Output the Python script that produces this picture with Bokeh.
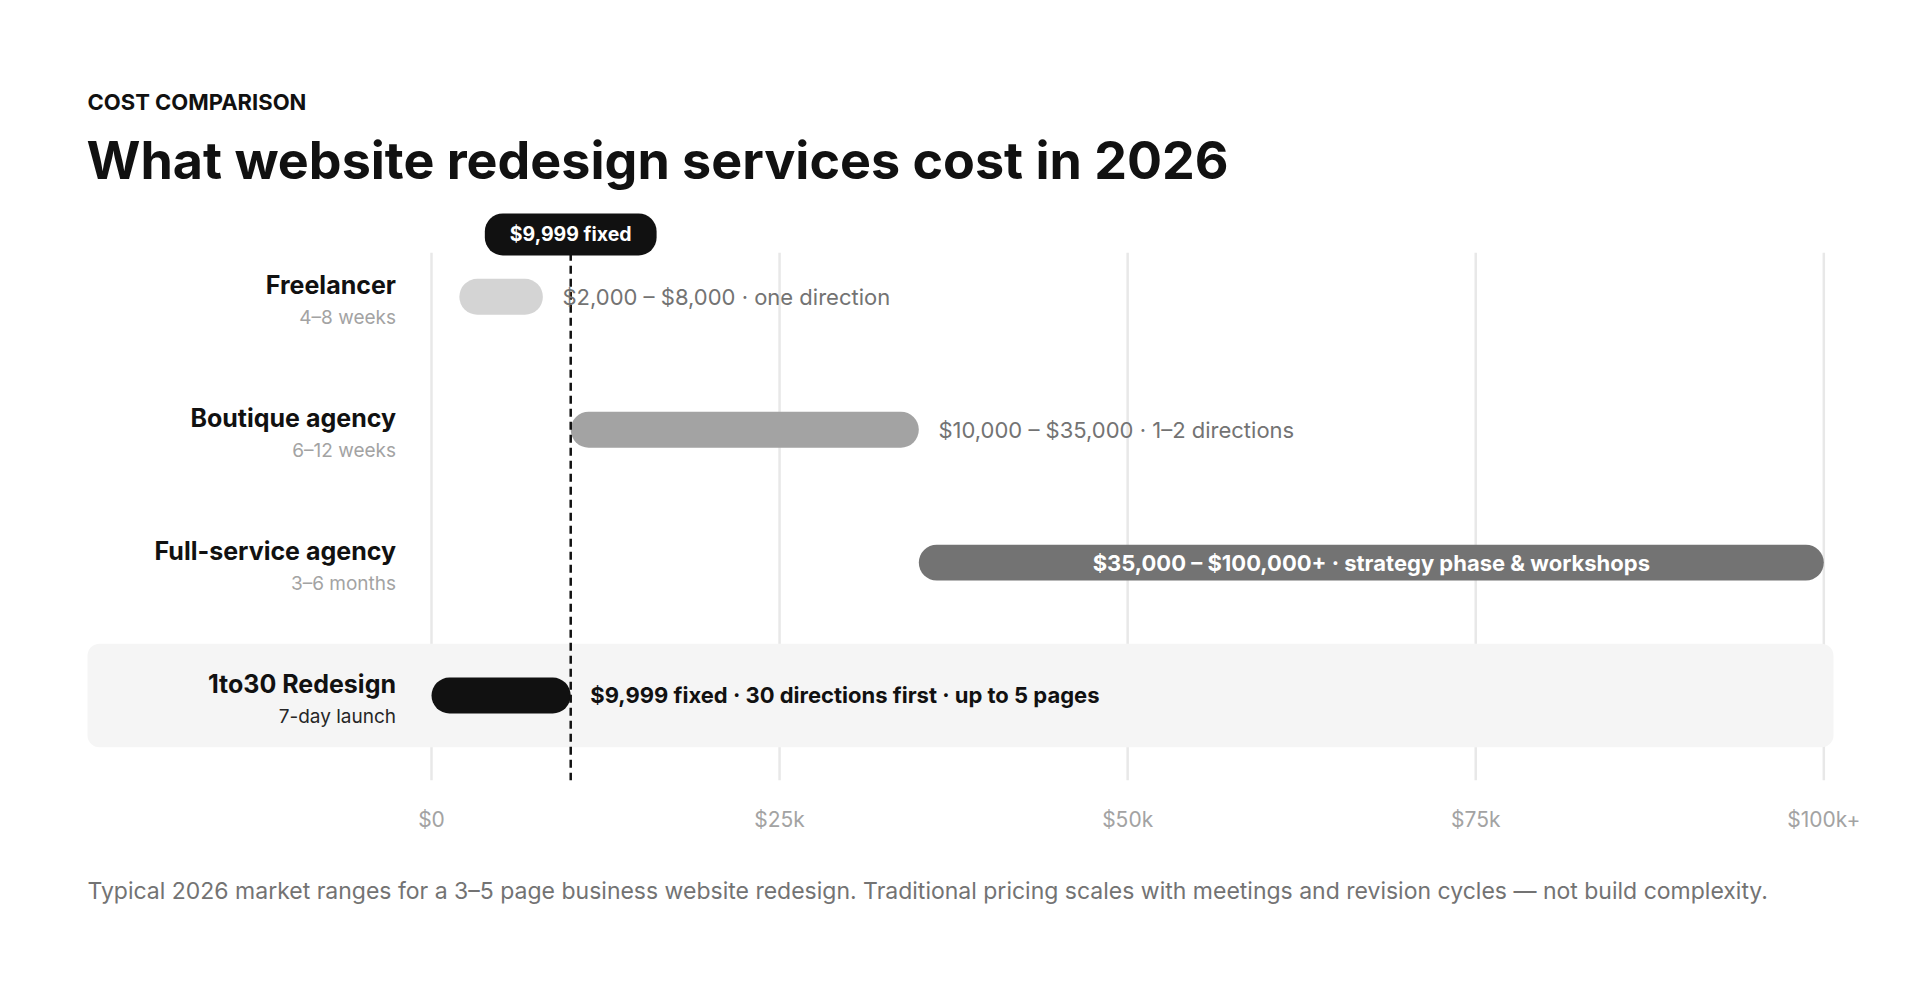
from bokeh.plotting import figure
from bokeh.models import ColumnDataSource, Label, BoxAnnotation, LinearAxis, FixedTicker, Range1d, Title
from bokeh.core.properties import value
from bokeh.embed import file_html
from bokeh.resources import INLINE

# texts
eyebrow = "COST COMPARISON"
title = "What website redesign services cost in 2026"
footnote = ("Typical 2026 market ranges for a 3–5 page business website redesign. "
            "Traditional pricing scales with meetings and revision cycles — not build complexity.")

# data
providers = ["Freelancer", "Boutique agency", "Full-service agency", "1to30 Redesign"]
timelines = ["4–8 weeks", "6–12 weeks", "3–6 months", "7-day launch"]
low = [2000, 10000, 35000, 0]
high = [8000, 35000, 100000, 9999]
notes = ["$2,000 – $8,000 · one direction",
         "$10,000 – $35,000 · 1–2 directions",
         "$35,000 – $100,000+ · strategy phase & workshops",
         "$9,999 fixed · 30 directions first · up to 5 pages"]
fixed_price = 9999
fixed_label = "$9,999 fixed"
tick_values = [0, 25000, 50000, 75000, 100000]
tick_labels = ["$0", "$25k", "$50k", "$75k", "$100k+"]

# styles
bar_colors = ["#d4d4d4", "#a3a3a3", "#737373", "#111111"]
sub_colors = ["#a3a3a3", "#a3a3a3", "#a3a3a3", "#262626"]
FONT = "Inter"

rows = list(range(len(providers)))
W, H = 1904, 968
BOTTOM = 188
y_top, y_bot = -2.2295, 3.6396
grid_top = -0.3318

p = figure(width=W, height=H, output_backend="svg", toolbar_location=None,
           x_range=Range1d(-30956, 105796), y_range=Range1d(y_bot, y_top),
           x_axis_type=None, y_axis_type=None,
           min_border_left=0, min_border_right=0, min_border_top=0, min_border_bottom=BOTTOM,
           outline_line_color=None, background_fill_color="white", border_fill_color="white")

ax = LinearAxis(ticker=FixedTicker(ticks=tick_values),
                major_label_overrides={v: t for v, t in zip(tick_values, tick_labels)},
                axis_line_color=None, major_tick_line_color=None, minor_tick_line_color=None,
                major_tick_out=0, major_tick_in=0, major_label_standoff=26,
                major_label_text_font=FONT, major_label_text_font_size="21px",
                major_label_text_color="#a3a3a3")
p.add_layout(ax, "below")
p.add_layout(Title(text=footnote, align="left", offset=87, standoff=80,
                   text_font=FONT, text_font_size="23px", text_font_style="normal",
                   text_color="#737373"), "below")

# grid lines and the highlighted row
p.segment(x0=tick_values, y0=[grid_top] * len(tick_values), x1=tick_values, y1=[y_bot] * len(tick_values),
          line_color="#e8e8e8", line_width=2.5, level="underlay")
band = BoxAnnotation(left=87, right=1833, left_units="screen", right_units="screen",
                     top=rows[-1] - 0.39, bottom=rows[-1] + 0.39,
                     fill_color="#f5f5f5", fill_alpha=1, line_color=None, border_radius=12,
                     level="underlay")
p.add_layout(band)

# bars
src = ColumnDataSource(dict(y=rows, left=low, right=high, color=bar_colors))
p.hbar(y="y", left="left", right="right", height=0.27, fill_color="color",
       line_color=None, border_radius=18, source=src)

# fixed price marker
p.segment(x0=[fixed_price], y0=[grid_top], x1=[fixed_price], y1=[y_bot],
          line_color="#111111", line_width=2.5, line_dash="8 5")
p.add_layout(Label(x=fixed_price, y=grid_top - 0.1377, text=fixed_label,
                   text_align="center", text_baseline="middle", text_color="white",
                   text_font=FONT, text_font_style="bold", text_font_size="19.5px",
                   background_fill_color="#111111", border_radius=18, padding=(25, 9)))

# row labels
p.text(x=[0] * len(rows), y=rows, text=providers, x_offset=-35.5, y_offset=-11.6,
       text_align="right", text_baseline="middle", text_font=value(FONT),
       text_font_style="bold", text_font_size="25px", text_color="#111111")
p.text(x=[0] * len(rows), y=rows, text=timelines, x_offset=-35.5, y_offset=21,
       text_align="right", text_baseline="middle", text_font=value(FONT),
       text_font_size="19px", text_color=sub_colors)

# range notes
outside = [i for i in rows if high[i] - low[i] < 50000]
inside = [i for i in rows if high[i] - low[i] >= 50000]
p.text(x=[high[i] for i in outside], y=[rows[i] for i in outside], text=[notes[i] for i in outside],
       x_offset=19.6, text_align="left", text_baseline="middle", text_font=value(FONT),
       text_font_size="22px",
       text_font_style=["bold" if i == rows[-1] else "normal" for i in outside],
       text_color=["#111111" if i == rows[-1] else "#737373" for i in outside])
p.text(x=[(low[i] + high[i]) / 2 for i in inside], y=[rows[i] for i in inside],
       text=[notes[i] for i in inside], text_align="center", text_baseline="middle",
       text_font=value(FONT), text_font_size="22px", text_font_style="bold", text_color="white")

# headings (screen units from the bottom of the frame)
frame_h = H - BOTTOM
p.add_layout(Label(x=87, y=frame_h - 101, x_units="screen", y_units="screen", text=eyebrow,
                   text_font=FONT, text_font_style="bold", text_font_size="22px",
                   text_color="#111111", text_baseline="middle"))
p.add_layout(Label(x=86, y=frame_h - 160, x_units="screen", y_units="screen", text=title,
                   text_font=FONT, text_font_style="bold", text_font_size="52px",
                   text_color="#111111", text_baseline="middle"))

open("out.html", "w").write(file_html(p, INLINE))
